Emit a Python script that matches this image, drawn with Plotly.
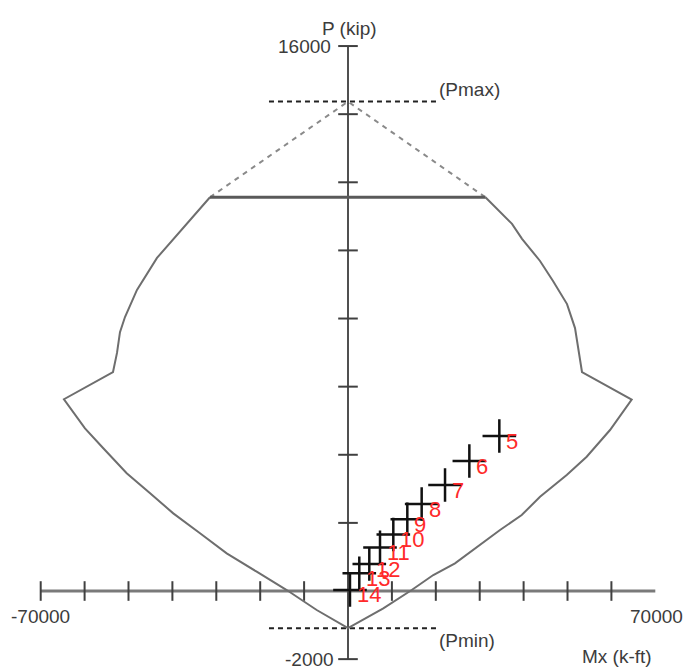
import plotly.graph_objects as go

# Interaction diagram outline (Mx in k-ft, P in kip)
curve_M = [31300, 37360, 39640, 43740, 46700, 49890, 51710, 52390, 53300, 64620,
           59680, 54370, 49820, 43740, 39570, 34630, 30070, 24370, 19430, 14510, 8040, 0,
           -7130, -13960, -20800, -27630, -33710, -39800, -45080, -50410, -55740, -59910,
           -64700, -53530, -52620, -51940, -50800, -48070, -43510, -37590, -31440]
curve_P = [11560, 10780, 10340, 9690, 9100, 8425, 7720, 7130, 6430, 5620,
           4727, 3943, 3406, 2769, 2231, 1791, 1350, 813, 470, 29, -508, -1090,
           -558, 29, 567, 1107, 1694, 2280, 2870, 3456, 4190, 4777,
           5630, 6430, 6990, 7600, 8045, 8840, 9780, 10660, 11560]

cap_M = [-31440, 31300]
cap_P = [11560, 11560]
po_M = [-31440, 0, 31300]
po_P = [11560, 14370, 11560]
pmax_M = [-18000, 20300]
pmax_P = [14370, 14370]
pmin_M = [-18000, 20300]
pmin_P = [-1090, -1090]

# Load points
pt_labels = ["5", "6", "7", "8", "9", "10", "11", "12", "13", "14"]
pt_M = [34470, 27640, 22100, 16780, 13510, 10320, 7290, 4850, 2570, 450]
pt_P = [4550, 3817, 3112, 2554, 2105, 1660, 1280, 793, 520, 30]

# Axes
x_ticks = [-70000, -60000, -50000, -40000, -30000, -20000, -10000,
           10000, 20000, 30000, 40000, 50000, 60000]
y_ticks = [-2000, 2000, 4000, 6000, 8000, 10000, 12000, 14000, 16000]
x_axis_range = [-70000, 70000]
y_axis_range = [-2000, 16000]

FONT = "Liberation Sans, Arial, sans-serif"
TXT = "#3c3c3c"

fig = go.Figure()

# axis lines
fig.add_trace(go.Scatter(x=x_axis_range, y=[0, 0], mode="lines",
                         line=dict(color="#7a7a7a", width=3), hoverinfo="skip"))
fig.add_trace(go.Scatter(x=[0, 0], y=y_axis_range, mode="lines",
                         line=dict(color="#505050", width=2), hoverinfo="skip"))
# tick marks
fig.add_trace(go.Scatter(x=x_ticks, y=[0] * len(x_ticks), mode="markers",
                         marker=dict(symbol="line-ns", size=14,
                                     line=dict(color="#404040", width=2)),
                         hoverinfo="skip"))
fig.add_trace(go.Scatter(x=[0] * len(y_ticks), y=y_ticks, mode="markers",
                         marker=dict(symbol="line-ew", size=14,
                                     line=dict(color="#404040", width=2)),
                         hoverinfo="skip"))

# Pmax / Pmin dashed lines
fig.add_trace(go.Scatter(x=pmax_M, y=pmax_P, mode="lines",
                         line=dict(color="#222222", width=2, dash="5px,4px"), hoverinfo="skip"))
fig.add_trace(go.Scatter(x=pmin_M, y=pmin_P, mode="lines",
                         line=dict(color="#222222", width=2, dash="5px,4px"), hoverinfo="skip"))
# Po dashed diagonals
fig.add_trace(go.Scatter(x=po_M, y=po_P, mode="lines",
                         line=dict(color="#8a8a8a", width=2, dash="5px,5px"), hoverinfo="skip"))
# outline
fig.add_trace(go.Scatter(x=curve_M, y=curve_P, mode="lines",
                         line=dict(color="#6e6e6e", width=2), hoverinfo="skip"))
# cap
fig.add_trace(go.Scatter(x=cap_M, y=cap_P, mode="lines",
                         line=dict(color="#5a5a5a", width=3), hoverinfo="skip"))
# load points
fig.add_trace(go.Scatter(x=pt_M, y=pt_P, mode="markers",
                         marker=dict(symbol="cross-thin", size=24,
                                     line=dict(color="#111111", width=2.5)),
                         hoverinfo="skip"))

ann = []
for lab, m, p in zip(pt_labels, pt_M, pt_P):
    ann.append(dict(x=m, y=p, text=lab, showarrow=False, xanchor="left", yanchor="middle",
                    xshift=5, yshift=-5, font=dict(family=FONT, size=22, color="#ff2a2a")))

def txt(x, y, s, xa="center", size=19):
    ann.append(dict(x=x, y=y, text=s, showarrow=False, xanchor=xa, yanchor="middle",
                    font=dict(family=FONT, size=size, color=TXT)))

txt(228, 16530, "P (kip)")
txt(-3420, 16000, "16000", "right")
txt(-70000, -734, "-70000")
txt(70160, -734, "70000")
txt(-2730, -2000, "-2000", "right")
txt(20270, 14710, "(Pmax)", "left")
txt(20270, -1439, "(Pmin)", "left")
txt(61280, -1908, "Mx (k-ft)")

fig.update_layout(
    width=686, height=670,
    margin=dict(l=0, r=0, t=0, b=0),
    paper_bgcolor="white", plot_bgcolor="white",
    showlegend=False,
    xaxis=dict(range=[-79270, 76990], visible=False, fixedrange=True),
    yaxis=dict(range=[-2319, 17352], visible=False, fixedrange=True),
    annotations=ann,
)

fig.write_html("out.html", config={"displayModeBar": False},
               post_script="document.body.style.margin='0';document.body.style.overflow='hidden';")
